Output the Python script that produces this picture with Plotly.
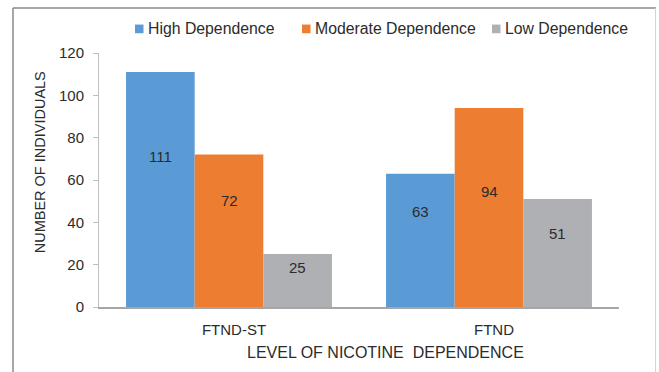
import plotly.graph_objects as go

# Data
categories = ["FTND-ST", "FTND"]
series_names = ["High Dependence", "Moderate Dependence", "Low Dependence"]
high_dep = [111, 63]
moderate_dep = [72, 94]
low_dep = [25, 51]

# Heights (in axis units) where each value label sits inside its bar
high_label_y = [71, 45]
moderate_label_y = [50.2, 54.5]
low_label_y = [18.6, 34.7]

x_title = "LEVEL OF NICOTINE\u00a0 DEPENDENCE"
y_title = "NUMBER OF INDIVIDUALS"

colors = ["#5B9BD5", "#ED7D31", "#AFB0B3"]
FONT = "Liberation Sans, Arial, sans-serif"
TEXT = "#2b2b2b"

W, H = 659, 372
M_L, M_R, M_T, M_B = 99, 40, 53, 64.5
BARGAP = 0.208

fig = go.Figure()
for name, vals, col in zip(series_names, [high_dep, moderate_dep, low_dep], colors):
    fig.add_trace(go.Bar(
        x=categories, y=vals, name=name,
        marker=dict(color=col, line=dict(width=0)),
        hoverinfo="x+y+name", showlegend=False,
    ))

# Value labels placed on the category scale, offset to each bar in the group
n_series = 3
bar_w = (1 - BARGAP) / n_series
for j, (vals, ys) in enumerate(zip([high_dep, moderate_dep, low_dep],
                                   [high_label_y, moderate_label_y, low_label_y])):
    for i, (v, yy) in enumerate(zip(vals, ys)):
        fig.add_annotation(
            x=i + (j - 1) * bar_w, y=yy, xref="x", yref="y",
            text=str(v), showarrow=False,
            font=dict(family=FONT, size=15, color=TEXT),
        )

# Pixel -> paper coordinate helpers
pw = W - M_L - M_R
ph = H - M_T - M_B
def px_x(p):
    return (p - M_L) / pw
def px_y(p):
    return (H - M_B - p) / ph

# Legend row across the top: colour swatch followed by the series name
legend_swatch_x = [135, 302, 492]
for name, col, sx in zip(series_names, colors, legend_swatch_x):
    fig.add_shape(type="rect", xref="paper", yref="paper",
                  x0=px_x(sx), x1=px_x(sx + 8.5), y0=px_y(33.2), y1=px_y(24.5),
                  fillcolor=col, line=dict(width=0))
    fig.add_annotation(
        x=px_x(sx + 11), y=px_y(28.5), xref="paper", yref="paper",
        xanchor="left", yanchor="middle", showarrow=False, text=name,
        font=dict(family=FONT, size=15.8, color=TEXT),
    )

# Axis titles
fig.add_annotation(
    x=px_x(385), y=px_y(353), xref="paper", yref="paper",
    xanchor="center", yanchor="middle", showarrow=False, text=x_title,
    font=dict(family=FONT, size=16, color=TEXT),
)
fig.add_annotation(
    x=px_x(40), y=px_y(162.5), xref="paper", yref="paper",
    xanchor="center", yanchor="middle", showarrow=False, text=y_title,
    textangle=-90, font=dict(family=FONT, size=14.5, color=TEXT),
)

# Frame around the chart area
fig.add_shape(type="line", xref="paper", yref="paper",
              x0=px_x(13), x1=px_x(13), y0=px_y(380), y1=px_y(8),
              line=dict(color="#8a8a8a", width=1.5))
fig.add_shape(type="line", xref="paper", yref="paper",
              x0=px_x(13), x1=px_x(656), y0=px_y(8), y1=px_y(8),
              line=dict(color="#8a8a8a", width=1.5))
fig.add_shape(type="line", xref="paper", yref="paper",
              x0=px_x(655.5), x1=px_x(655.5), y0=px_y(380), y1=px_y(8),
              line=dict(color="#d4d4d4", width=1))

fig.update_layout(
    width=W, height=H,
    margin=dict(l=M_L, r=M_R, t=M_T, b=M_B, autoexpand=False),
    paper_bgcolor="white", plot_bgcolor="white",
    barmode="group", bargap=BARGAP, bargroupgap=0,
    font=dict(family=FONT, size=15, color=TEXT),
    showlegend=False,
    xaxis=dict(
        showgrid=False, zeroline=False, showline=True,
        linecolor="#a6a6a6", linewidth=1.5, ticks="",
        ticklabelstandoff=8, ticklabelshift=5,
        tickfont=dict(family=FONT, size=15, color=TEXT),
    ),
    yaxis=dict(
        range=[0, 120], dtick=20, showgrid=False, zeroline=False,
        showline=True, linecolor="#bfbfbf", linewidth=1,
        ticks="outside", ticklen=5, tickcolor="#bfbfbf", tickwidth=1,
        ticklabelstandoff=6,
        tickfont=dict(family=FONT, size=15, color=TEXT),
    ),
)

fig.write_html("out.html")
